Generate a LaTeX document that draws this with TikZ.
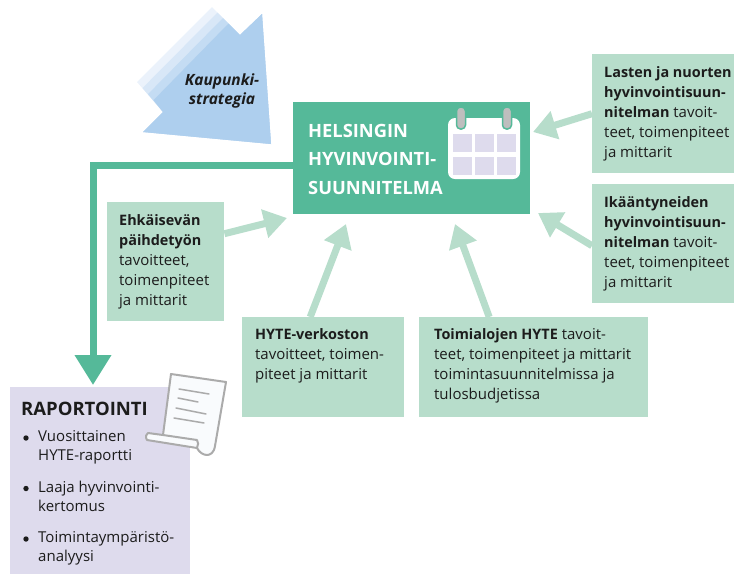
\documentclass[tikz,border=0pt]{standalone}
\usepackage{fontspec}
\setmainfont{Open Sans}
\usetikzlibrary{arrows.meta}
\definecolor{maingreen}{HTML}{55B999}
\definecolor{lightgreen}{HTML}{B7DDCB}
\definecolor{lavender}{HTML}{DEDBED}
\definecolor{stratblue}{HTML}{AECFEE}
\definecolor{stratb}{HTML}{C4DCF3}
\definecolor{stratc}{HTML}{D8E7F7}
\definecolor{stratd}{HTML}{EBF2FB}
\definecolor{ringgray}{HTML}{BEBEBE}
\definecolor{papergray}{HTML}{ABABAB}
\definecolor{paperwhite}{HTML}{F9FBFD}
\definecolor{txtblack}{HTML}{1C1C1C}
\newcommand{\goalhead}[1]{{\fontsize{14.4}{20}\selectfont\bfseries #1}}
\tikzset{
  goalbox/.style={fill=lightgreen,anchor=north west,inner sep=0pt},
  goaltext/.style={anchor=north west,align=left,inner sep=0pt,text=txtblack,
    font=\fontsize{15}{20}\selectfont},
  inarrow/.style={draw=lightgreen,line width=7pt,-{Triangle[length=23pt,width=28pt]}},
  outarrow/.style={draw=maingreen,line width=7pt,-{Triangle[length=30pt,width=35pt]}},
  reptext/.style={anchor=north west,align=left,inner sep=0pt,text=txtblack,
    font=\fontsize{15}{19}\selectfont},
  cell/.style={fill=lavender},
  ring/.style={fill=ringgray,draw=maingreen,line width=1.5pt,rounded corners=4pt},
  paperline/.style={draw=papergray,line width=1.5pt,line cap=round}
}
\begin{document}
\begin{tikzpicture}[x=1pt,y=-1pt]
  \useasboundingbox (0,0) rectangle (734,574);

  % strategy arrow with faded tail
  \foreach \d/\c in {0/stratd,5.5/stratc,11/stratb,16.5/stratblue}
    \fill [\c] (212+\d,7+\d) -- (240,35) -- (262,14) -- (271,144) -- (143,132) -- (163,112) -- (137+\d,82+1.1*\d) -- cycle;
  \node [align=center,inner sep=0pt,text=txtblack,font=\fontsize{15.5}{18.5}\selectfont\bfseries\itshape] (strategy) at (222,91) {Kaupunki-\\strategia};

  % boxes
  \node [fill=maingreen,anchor=north west,minimum width=237pt,minimum height=112pt,inner sep=0pt] (main) at (293,102) {};
  \node [anchor=west,align=left,inner sep=0pt,text=white,font=\fontsize{18.3}{28.5}\selectfont\bfseries] (maintext) at (308,159) {HELSINGIN\\HYVINVOINTI-\\SUUNNITELMA};
  \node [goalbox,minimum width=142pt,minimum height=119pt] (lasten) at (592,54) {};
  \node [goalbox,minimum width=142pt,minimum height=119pt] (ikaant) at (592,184) {};
  \node [goalbox,minimum width=117pt,minimum height=119pt] (ehkais) at (107,202) {};
  \node [goalbox,minimum width=162pt,minimum height=100pt] (hyteverk) at (242,317) {};
  \node [goalbox,minimum width=229pt,minimum height=100pt] (toimiala) at (419,317) {};
  \node [fill=lavender,anchor=north west,minimum width=180pt,minimum height=187pt,inner sep=0pt] (raportti) at (10,387) {};

  \node [goaltext] (lastentext) at (604,66) {\goalhead{Lasten ja nuorten}\\\goalhead{hyvinvointisuun-}\\\goalhead{nitelman} tavoit-\\teet, toimenpiteet\\ja mittarit};
  \node [goaltext] (ikaanttext) at (604,196) {\goalhead{Ikääntyneiden}\\\goalhead{hyvinvointisuun-}\\\goalhead{nitelman} tavoit-\\teet, toimenpiteet\\ja mittarit};
  \node [goaltext] (ehkaistext) at (119,214) {\goalhead{Ehkäisevän}\\\goalhead{päihdetyön}\\tavoitteet,\\toimenpiteet\\ja mittarit};
  \node [goaltext] (hytetext) at (255,328) {\goalhead{HYTE-verkoston}\\tavoitteet, toimen-\\piteet ja mittarit};
  \node [goaltext] (toimitext) at (434,328) {\goalhead{Toimialojen HYTE} tavoit-\\teet, toimenpiteet ja mittarit\\toimintasuunnitelmissa ja\\tulosbudjetissa};

  % arrows
  \coordinate (lastentip) at (533,132);
  \coordinate (ikaanttip) at (538,213);
  \coordinate (ehkaistip) at (287,218);
  \coordinate (hytetip) at (346,224);
  \coordinate (toimitip) at (455,224);
  \coordinate (raporttip) at (93,385);
  \draw [inarrow] (lasten.west) -- (lastentip);
  \draw [inarrow] ([yshift=-2pt]ikaant.west) -- (ikaanttip);
  \draw [inarrow] ([yshift=28pt]ehkais.east) -- (ehkaistip);
  \draw [inarrow] ([xshift=-13pt]hyteverk.north) -- (hytetip);
  \draw [inarrow] ([xshift=-44.5pt]toimiala.north) -- (toimitip);
  \draw [outarrow] ([yshift=-7pt]main.west) -| (raporttip);

  % calendar
  \fill [white,rounded corners=7pt] (448,118) rectangle (520,179);
  \foreach \x in {461,507}
    \draw [ring] (\x-4.5,107) rectangle (\x+4.5,129);
  \foreach \x in {453,475,497}
    \foreach \y in {134,157}
      \fill [cell] (\x,\y) rectangle (\x+19,\y+17.5);

  % report text
  \node [reptext,font=\fontsize{18.5}{20}\selectfont\bfseries] (rapotsikko) at (21,402) {RAPORTOINTI};
  \foreach \y/\n/\t in {430.5/vuosi/{Vuosittainen\\HYTE-raportti},481/laaja/{Laaja hyvinvointi-\\kertomus},531.5/toimymp/{Toimintaympäristö-\\analyysi}} {
    \fill [txtblack] (26,\y+7.5) circle (2.7);
    \node [reptext] (\n) at (38,\y) {\t};
  }

  % scroll
  \draw [fill=paperwhite,draw=papergray,line width=2pt,line join=round] (171,374) -- (226,382) -- (215,446) .. controls (214,453) and (210,455) .. (207,455) .. controls (203,455) and (199,452) .. (197,448) -- (147,440) .. controls (145,437) and (146,434) .. (148,433) -- (163,435) -- cycle;
  \draw [draw=papergray,line width=2pt,line join=round] (163,435) -- (197,440) .. controls (199,442) and (198,445) .. (197,448);
  \draw [paperline] (179,389) -- (209,394);
  \draw [paperline] (178,398) -- (198,402);
  \draw [paperline] (176,408) -- (206,414);
  \draw [paperline] (174,418) -- (204,423);
\end{tikzpicture}
\end{document}
